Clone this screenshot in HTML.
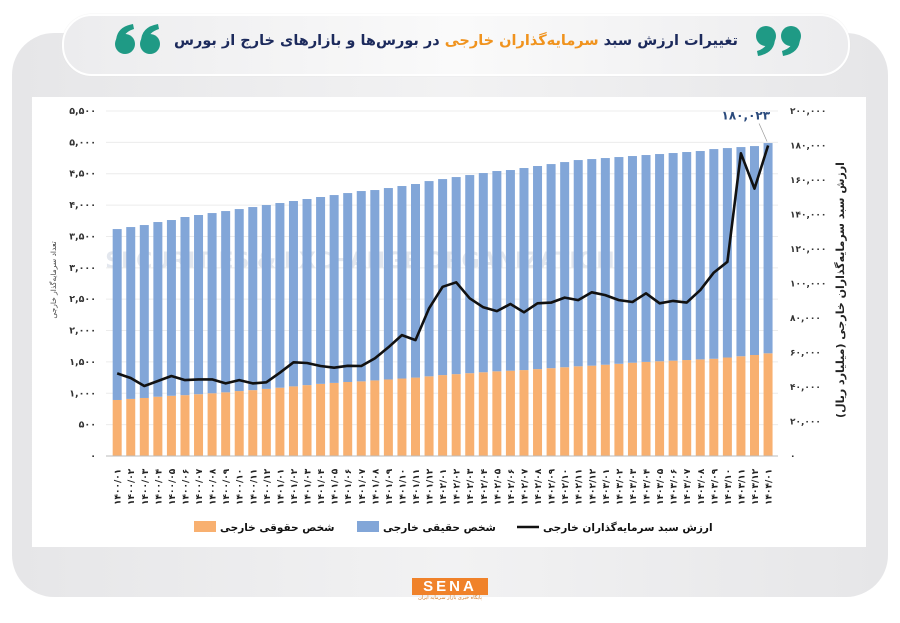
<!DOCTYPE html>
<html><head><meta charset="utf-8">
<style>
html,body{margin:0;padding:0;background:#fff;}
body{width:900px;height:623px;position:relative;overflow:hidden;font-family:"DejaVu Sans","Liberation Sans",sans-serif;}
#card{position:absolute;left:12px;top:33px;width:876px;height:564px;border-radius:42px;background:linear-gradient(90deg,#e6e6e8,#f2f2f3 50%,#e6e6e8);}
#header{position:absolute;left:62px;top:14px;width:784px;height:58px;border-radius:30px;background:linear-gradient(90deg,#ececee,#fafafa 50%,#ececee);border:2px solid #fff;box-shadow:0 0 1px #ddd;}
#title{position:absolute;left:0;right:0;top:17px;text-align:center;direction:rtl;font-weight:bold;font-size:14.5px;color:#1c2a5c;white-space:nowrap;}
#title .hl{color:#f0931e;}
#panel{position:absolute;left:32px;top:97px;width:834px;height:450px;background:#fff;}
#logo{position:absolute;left:412px;top:578px;width:76px;height:24px;}
svg text{font-family:"DejaVu Sans","Liberation Sans",sans-serif;}
</style></head>
<body>
<div id="card"></div>
<div id="header">
  <div id="title">تغییرات ارزش سبد <span class="hl">سرمایه‌گذاران خارجی</span> در بورس‌ها و بازارهای خارج از بورس</div>
</div>
<svg width="900" height="80" style="position:absolute;left:0;top:0">
  <g fill="#1f9a85">
    <circle cx="125" cy="44" r="10"/><path d="M116 42 Q116 27 133 24 L134 29 Q124 32 123 40 Z"/>
    <circle cx="150" cy="44" r="10"/><path d="M141 42 Q141 27 158 24 L159 29 Q149 32 148 40 Z"/>
  </g>
  <g fill="#1f9a85">
    <circle cx="766" cy="36" r="10"/><path d="M775 38 Q775 53 758 56 L757 51 Q767 48 768 40 Z"/>
    <circle cx="791" cy="36" r="10"/><path d="M800 38 Q800 53 783 56 L782 51 Q792 48 793 40 Z"/>
  </g>
</svg>
<div id="panel"></div>
<svg id="chart" width="900" height="623" style="position:absolute;left:0;top:0"></svg>
<div id="logo">
  <div style="background:#f0822a;color:#fff;font-weight:bold;font-size:15px;letter-spacing:3px;text-align:center;height:17px;line-height:17px;font-family:'Liberation Sans',sans-serif">SENA</div>
  <div style="font-size:5px;color:#d07a2a;text-align:center;direction:rtl">پایگاه خبری بازار سرمایه ایران</div>
</div>
<script>
const categories=["۱۴۰۰/۰۱","۱۴۰۰/۰۲","۱۴۰۰/۰۳","۱۴۰۰/۰۴","۱۴۰۰/۰۵","۱۴۰۰/۰۶","۱۴۰۰/۰۷","۱۴۰۰/۰۸","۱۴۰۰/۰۹","۱۴۰۰/۱۰","۱۴۰۰/۱۱","۱۴۰۰/۱۲",
"۱۴۰۱/۰۱","۱۴۰۱/۰۲","۱۴۰۱/۰۳","۱۴۰۱/۰۴","۱۴۰۱/۰۵","۱۴۰۱/۰۶","۱۴۰۱/۰۷","۱۴۰۱/۰۸","۱۴۰۱/۰۹","۱۴۰۱/۱۰","۱۴۰۱/۱۱","۱۴۰۱/۱۲",
"۱۴۰۲/۰۱","۱۴۰۲/۰۲","۱۴۰۲/۰۳","۱۴۰۲/۰۴","۱۴۰۲/۰۵","۱۴۰۲/۰۶","۱۴۰۲/۰۷","۱۴۰۲/۰۸","۱۴۰۲/۰۹","۱۴۰۲/۱۰","۱۴۰۲/۱۱","۱۴۰۲/۱۲",
"۱۴۰۳/۰۱","۱۴۰۳/۰۲","۱۴۰۳/۰۳","۱۴۰۳/۰۴","۱۴۰۳/۰۵","۱۴۰۳/۰۶","۱۴۰۳/۰۷","۱۴۰۳/۰۸","۱۴۰۳/۰۹","۱۴۰۳/۱۰","۱۴۰۳/۱۱","۱۴۰۳/۱۲","۱۴۰۴/۰۱"];
const legalEntities=[893,910,925,945,960,970,985,1000,1015,1035,1050,1070,1089,1110,1130,1150,1165,1180,1190,1205,1220,1235,1250,1270,1290,1305,1320,1335,1350,1360,1370,1385,1400,1415,1430,1440,1455,1470,1487,1500,1510,1520,1530,1540,1550,1570,1590,1610,1637];
const naturalPersons=[2725,2740,2757,2785,2802,2840,2857,2873,2890,2902,2919,2931,2944,2955,2967,2979,2995,3012,3034,3035,3052,3069,3086,3113,3125,3142,3159,3176,3193,3199,3221,3238,3254,3271,3288,3294,3295,3296,3295,3298,3304,3310,3316,3322,3343,3339,3335,3331,3352];
const portfolioValue=[47900,45200,40600,43500,46400,44000,44400,44400,42100,44000,42100,42700,48300,54300,53900,52200,51200,52300,52200,56600,63000,70100,67200,85600,98100,100700,91400,86200,84000,88100,83300,88500,88900,91800,90400,94900,93300,90400,89300,94300,88500,89900,88900,96200,106300,112600,175500,155000,180023];
const leftTicks=[0,500,1000,1500,2000,2500,3000,3500,4000,4500,5000,5500];
const rightTicks=[0,20000,40000,60000,80000,100000,120000,140000,160000,180000,200000];
const fa=s=>String(s).replace(/\d/g,d=>"۰۱۲۳۴۵۶۷۸۹"[d]);
const fmt=v=>fa(v.toLocaleString('en-US'));
const X0=110.4,STEP=13.56,Y0=456,H=345;
const xc=i=>X0+STEP*(i+0.5);
const yL=v=>Y0-v/5500*H;
const yR=v=>Y0-v/200000*H;
const svg=document.getElementById('chart');
const NS="http://www.w3.org/2000/svg";
function el(tag,attrs,parent){const e=document.createElementNS(NS,tag);for(const k in attrs)e.setAttribute(k,attrs[k]);(parent||svg).appendChild(e);return e;}
const wm=el('text',{x:360,y:268,'text-anchor':'middle','font-size':'22','font-weight':'bold',fill:'#e3e7ee'});
wm.textContent="SECURITIES & EXCHANGE ORGANIZATION";


leftTicks.forEach(t=>{
  if(t>0){const g=el('line',{x1:106,x2:778,y1:yL(t),y2:yL(t),stroke:'#ececec','stroke-width':1});
  
  }
  const tx=el('text',{x:96,y:yL(t)+3,'text-anchor':'end','font-size':'9.5','font-weight':'bold',fill:'#333'});
  tx.textContent=fa(t===0?'0':t.toLocaleString('en-US'));
  
  
});
rightTicks.forEach(t=>{
  const tx=el('text',{x:790,y:yR(t)+3,'text-anchor':'start','font-size':'9','font-weight':'bold',fill:'#333'});
  tx.textContent=t===0?'۰':fmt(t);
  
  
});
categories.forEach((c,i)=>{
  const x=xc(i)-4.5;
  const lb=el('rect',{x:x,y:yL(legalEntities[i]),width:9,height:Y0-yL(legalEntities[i]),fill:'#f8b070'});
  
  
  const top=legalEntities[i]+naturalPersons[i];
  const nb=el('rect',{x:x,y:yL(top),width:9,height:yL(legalEntities[i])-yL(top),fill:'#82a6d8'});
  
  
  const lbl=el('text',{transform:`translate(${xc(i)+3.5},${505}) rotate(-90)`,'text-anchor':'start','font-size':'9','font-weight':'bold',fill:'#222'});
  lbl.textContent=c;
  
  
});
const ax=el('line',{x1:106,x2:778,y1:Y0,y2:Y0,stroke:'#bbb','stroke-width':1});


const pts=portfolioValue.map((v,i)=>xc(i).toFixed(1)+','+yR(v).toFixed(1)).join(' ');
const pl=el('polyline',{points:pts,fill:'none',stroke:'#111','stroke-width':2.6,'stroke-linejoin':'round'});


const li=portfolioValue.length-1;
const cl=el('line',{x1:xc(li)-1,y1:yR(portfolioValue[li])-4,x2:xc(li)-9,y2:yR(portfolioValue[li])-22,stroke:'#999','stroke-width':0.7});


const ct=el('text',{x:xc(li)+2,y:yR(portfolioValue[li])-26,'text-anchor':'end','font-size':'12','font-weight':'bold',fill:'#2a4a7c'});
ct.textContent=fmt(portfolioValue[li]);


const lt=el('text',{transform:'translate(56,280) rotate(-90)','text-anchor':'middle','font-size':'7.5',fill:'#444',direction:'rtl'});
lt.textContent='تعداد سرمایه‌گذار خارجی';


const rt=el('text',{transform:'translate(844,290) rotate(-90)','text-anchor':'middle','font-size':'11','font-weight':'bold',fill:'#222',direction:'rtl'});
rt.textContent='ارزش سبد سرمایه‌گذاران خارجی (میلیارد ریال)';


function legItem(mx,label,kind,color,name){
  const g=el('g',{});
  
  
  if(kind==='line') el('line',{x1:mx,x2:mx+22,y1:527,y2:527,stroke:color,'stroke-width':2.5},g);
  else el('rect',{x:mx,y:521,width:22,height:11,fill:color},g);
  const t=el('div',{},null);
  svg.removeChild(t);
  const tt=el('text',{x:mx+26,y:531,'font-size':'10.5','font-weight':'bold',fill:'#111',style:'direction:rtl;unicode-bidi:plaintext','text-anchor':'end'},g);
  tt.textContent=label;
}
legItem(194,'شخص حقوقی خارجی','rect','#f8b070','legend-legal-entities');
legItem(357,'شخص حقیقی خارجی','rect','#82a6d8','legend-natural-persons');
legItem(517,'ارزش سبد سرمایه‌گذاران خارجی','line','#111','legend-portfolio-value');
</script>
</body></html>
